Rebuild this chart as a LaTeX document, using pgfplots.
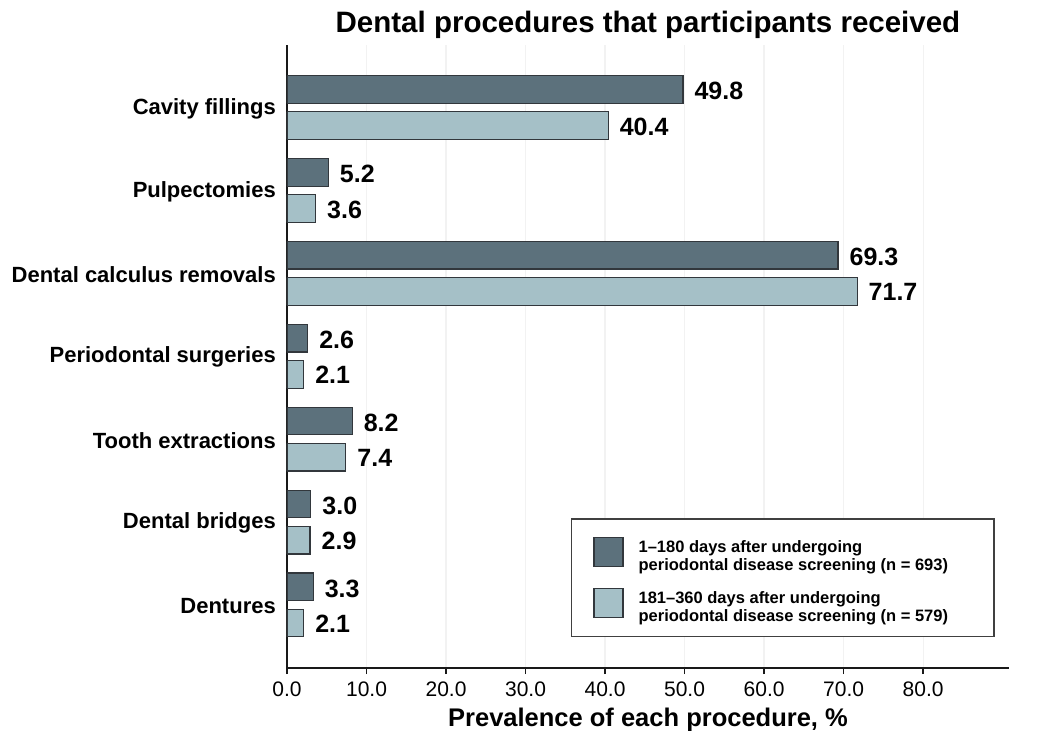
\documentclass[border=0pt]{standalone}
\usepackage{fontspec}
\setmainfont{Liberation Sans}
\usepackage{pgfplots}
\pgfplotsset{compat=1.18}
\definecolor{darkbar}{RGB}{92,113,124}
\definecolor{lightbar}{RGB}{165,192,199}
\definecolor{edge}{RGB}{50,55,60}
\newcommand\titlefont{\fontsize{29.5bp}{34bp}\selectfont\bfseries}
\newcommand\catfont{\fontsize{22bp}{26bp}\selectfont\bfseries}
\newcommand\valfont{\fontsize{25bp}{29bp}\selectfont\bfseries}
\newcommand\tickfont{\fontsize{21bp}{25bp}\selectfont}
\newcommand\xlabfont{\fontsize{25.5bp}{30bp}\selectfont\bfseries}
\newcommand\legfont{\fontsize{16.5bp}{17.5bp}\selectfont\bfseries}
\begin{document}
\begin{tikzpicture}
\path[use as bounding box] (-287bp,-63bp) rectangle (755bp,668bp);
\begin{axis}[
  at={(0bp,0bp)}, anchor=south west,
  scale only axis, width=722bp, height=623bp,
  xmin=0, xmax=90.8, ymin=-0.761, ymax=6.755,
  axis x line*=bottom, axis y line*=left,
  axis line style={-, line width=1.4bp, black!90},
  xtick={0,10,...,80},
  xtick align=outside,
  x tick style={line width=1.3bp, black!90},
  major tick length=6bp,
  /pgf/number format/.cd, fixed, fixed zerofill, precision=1, assume math mode=true,
  /pgfplots/.cd,
  xticklabel style={font=\tickfont, inner sep=0pt, yshift=-8bp},
  ytick={0,1,2,3,4,5,6},
  y tick style={draw=none},
  yticklabels={Dentures, Dental bridges, Tooth extractions, Periodontal surgeries, Dental calculus removals, Pulpectomies, Cavity fillings},
  yticklabel style={font=\catfont, inner sep=0pt, anchor=east, xshift=-11bp, yshift=-1bp},
  xmajorgrids, grid style={draw=black!5, line width=1.2bp},
  title={Dental procedures that participants received},
  title style={at={(0.5,1)}, anchor=base, yshift=7bp, inner sep=0pt, font=\titlefont},
  xlabel={Prevalence of each procedure, \%},
  xlabel style={at={(0.5,0)}, anchor=base, yshift=-58bp, inner sep=0pt, font=\xlabfont},
  bar width=0.333,
  point meta=x,
  nodes near coords,
  every node near coord/.append style={anchor=west, inner sep=0pt, xshift=11bp, font=\valfont, text=black},
  legend cell align=left,
  legend style={at={(0.393,0.0498)}, anchor=south west, draw=black!75, line width=1.3bp,
    inner xsep=22bp, inner ysep=18bp, font=\legfont, row sep=21bp,
    /tikz/every odd column/.append style={column sep=15bp},
    nodes={inner sep=0pt}},
]
\addplot[xbar, bar shift=0.218, fill=darkbar, draw=edge, line width=1.2bp,
  every node near coord/.append style={yshift=16.5bp},
  legend image code/.code={\draw[fill=darkbar, draw=edge, line width=1.2bp] (0bp,-14.5bp) rectangle (29bp,14.5bp);}]
  coordinates {(3.3,0) (3.0,1) (8.2,2) (2.6,3) (69.3,4) (5.2,5) (49.8,6)};
\addlegendentry{\begin{tabular}{@{}l@{}}1--180 days after undergoing\\periodontal disease screening (n = 693)\end{tabular}\hspace*{24bp}}
\addplot[xbar, bar shift=-0.218, fill=lightbar, draw=edge, line width=1.2bp,
  every node near coord/.append style={yshift=-19bp},
  legend image code/.code={\draw[fill=lightbar, draw=edge, line width=1.2bp] (0bp,-14.5bp) rectangle (29bp,14.5bp);}]
  coordinates {(2.1,0) (2.9,1) (7.4,2) (2.1,3) (71.7,4) (3.6,5) (40.4,6)};
\addlegendentry{\begin{tabular}{@{}l@{}}181--360 days after undergoing\\periodontal disease screening (n = 579)\end{tabular}\hspace*{24bp}}
\end{axis}
\end{tikzpicture}
\end{document}
